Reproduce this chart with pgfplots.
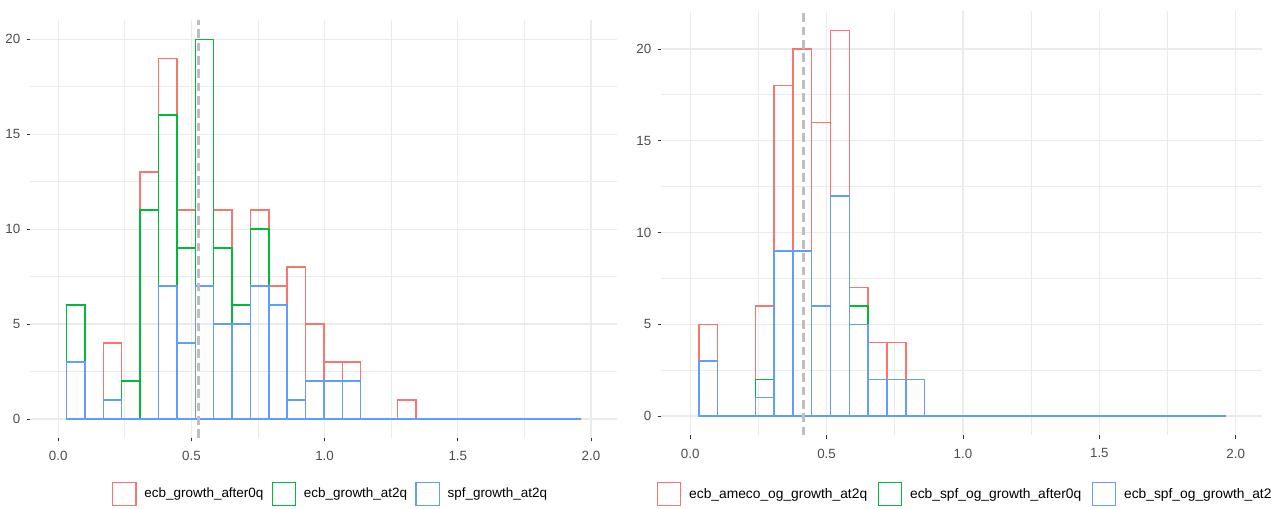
\documentclass[border=0pt]{standalone}
\usepackage{pgfplots}
\usepackage{pgfplotstable}
\pgfplotsset{compat=1.18}
\usepackage{fontspec}
\setmainfont{Liberation Sans}

\definecolor{cRed}{HTML}{F8766D}
\definecolor{cGreen}{HTML}{00BA38}
\definecolor{cBlue}{HTML}{619CFF}
\definecolor{gridgray}{HTML}{EBEBEB}
\definecolor{ticktext}{HTML}{4D4D4D}
\definecolor{tickmark}{HTML}{333333}
\definecolor{vlinegray}{HTML}{BEBEBE}

% bin centres (width 0.069) and counts per series
\pgfplotstableread{
x      blue green red
0.0660 3    3     0
0.1350 0    0     0
0.2040 1    0     3
0.2730 0    2     0
0.3420 0    11    2
0.4110 7    9     3
0.4800 4    5     2
0.5490 7    13    0
0.6180 5    4     2
0.6870 5    1     0
0.7560 7    3     1
0.8250 6    0     1
0.8940 1    0     7
0.9630 2    0     3
1.0320 2    0     1
1.1010 2    0     1
1.1700 0    0     0
1.2390 0    0     0
1.3080 0    0     1
1.3770 0    0     0
1.4460 0    0     0
1.5150 0    0     0
1.5840 0    0     0
1.6530 0    0     0
1.7220 0    0     0
1.7910 0    0     0
1.8600 0    0     0
1.9290 0    0     0
}\growthdata

\pgfplotstableread{
x      blue green red
0.0660 3    0     2
0.1350 0    0     0
0.2040 0    0     0
0.2730 1    1     4
0.3420 9    0     9
0.4110 9    0     11
0.4800 6    0     10
0.5490 12   0     9
0.6180 5    1     1
0.6870 2    0     2
0.7560 2    0     2
0.8250 2    0     0
0.8940 0    0     0
0.9630 0    0     0
1.0320 0    0     0
1.1010 0    0     0
1.1700 0    0     0
1.2390 0    0     0
1.3080 0    0     0
1.3770 0    0     0
1.4460 0    0     0
1.5150 0    0     0
1.5840 0    0     0
1.6530 0    0     0
1.7220 0    0     0
1.7910 0    0     0
1.8600 0    0     0
1.9290 0    0     0
}\ogdata

\tikzset{meanline/.style={vlinegray, line width=1.7pt, dash pattern=on 6.5pt off 3.5pt}}

\pgfplotsset{
  histpanel/.style={
    scale only axis,
    ybar, bar shift=0pt,
    bar width=0.069,
    enlargelimits=false,
    axis line style={draw=none},
    tick align=outside,
    tick pos=left,
    major tick length=2.6pt,
    minor tick length=0pt,
    tick style={color=tickmark, line width=0.6pt},
    grid=both,
    major grid style={color=gridgray, line width=0.85pt},
    minor grid style={color=gridgray, line width=0.7pt},
    xtick={0,0.5,1,1.5,2},
    minor xtick={0.25,0.75,1.25,1.75},
    ytick={0,5,10,15,20},
    minor ytick={2.5,7.5,12.5,17.5},
    /pgf/number format/assume math mode=true,
    tick label style={font=\fontsize{10}{12}\selectfont, text=ticktext},
    xticklabel style={inner sep=0pt, yshift=-7.3pt,
      /pgf/number format/.cd, fixed, fixed zerofill, precision=1},
    yticklabel style={inner sep=0pt, xshift=-4.5pt},
    legend columns=3,
    legend style={draw=none, fill=none, inner xsep=0pt, inner ysep=0pt,
      anchor=west,
      nodes={inner sep=0pt, text=black},
      /tikz/every odd column/.append style={column sep=5.8pt}},
  },
  histbar/.style={draw=#1, fill=none, line width=1.1pt,
    legend image code/.code={\draw[#1, line width=0.9pt] (0pt,-8.75pt) rectangle (17.5pt,8.75pt);}},
}

% stacked outlines: each series' bar reaches the running total of the
% series below it, drawn top series first so lower outlines lie on top
\newcommand{\stackedhist}[1]{%
  \addplot[histbar=cRed] table[x=x, y expr=\thisrow{blue}+\thisrow{green}+\thisrow{red}] {#1};
  \addplot[histbar=cGreen] table[x=x, y expr=\thisrow{blue}+\thisrow{green}] {#1};
  \addplot[histbar=cBlue] table[x=x, y=blue] {#1};
}

\begin{document}
\begin{tikzpicture}
\useasboundingbox (0,0) rectangle (953.25pt,381.75pt);

% growth forecasts
\begin{axis}[histpanel,
  at={(22.5pt,53.25pt)}, anchor=south west,
  width=440.5pt, height=313.3pt,
  xmin=-0.106, xmax=2.099, ymin=-1, ymax=21,
  legend style={at={(0.1394,-0.134)}, font=\fontsize{10.1}{12}\selectfont,
    /tikz/every even column/.append style={column sep=6.1pt}}]
\stackedhist{\growthdata}
\legend{ecb\_growth\_after0q, ecb\_growth\_at2q, spf\_growth\_at2q}
\draw[meanline] (axis cs:0.527,-1) -- (axis cs:0.527,21);
\end{axis}

% output-gap forecasts
\begin{axis}[histpanel,
  at={(495.75pt,55.3pt)}, anchor=south west,
  width=450.5pt, height=317.9pt,
  xmin=-0.107, xmax=2.095, ymin=-1.05, ymax=22.05,
  legend style={at={(-0.0072,-0.139)}, font=\fontsize{10.35}{12}\selectfont,
    /tikz/every even column/.append style={column sep=8pt}}]
\stackedhist{\ogdata}
\legend{ecb\_ameco\_og\_growth\_at2q, ecb\_spf\_og\_growth\_after0q, ecb\_spf\_og\_growth\_at2q}
\draw[meanline] (axis cs:0.415,-1.05) -- (axis cs:0.415,22.05);
\end{axis}
\end{tikzpicture}
\end{document}
